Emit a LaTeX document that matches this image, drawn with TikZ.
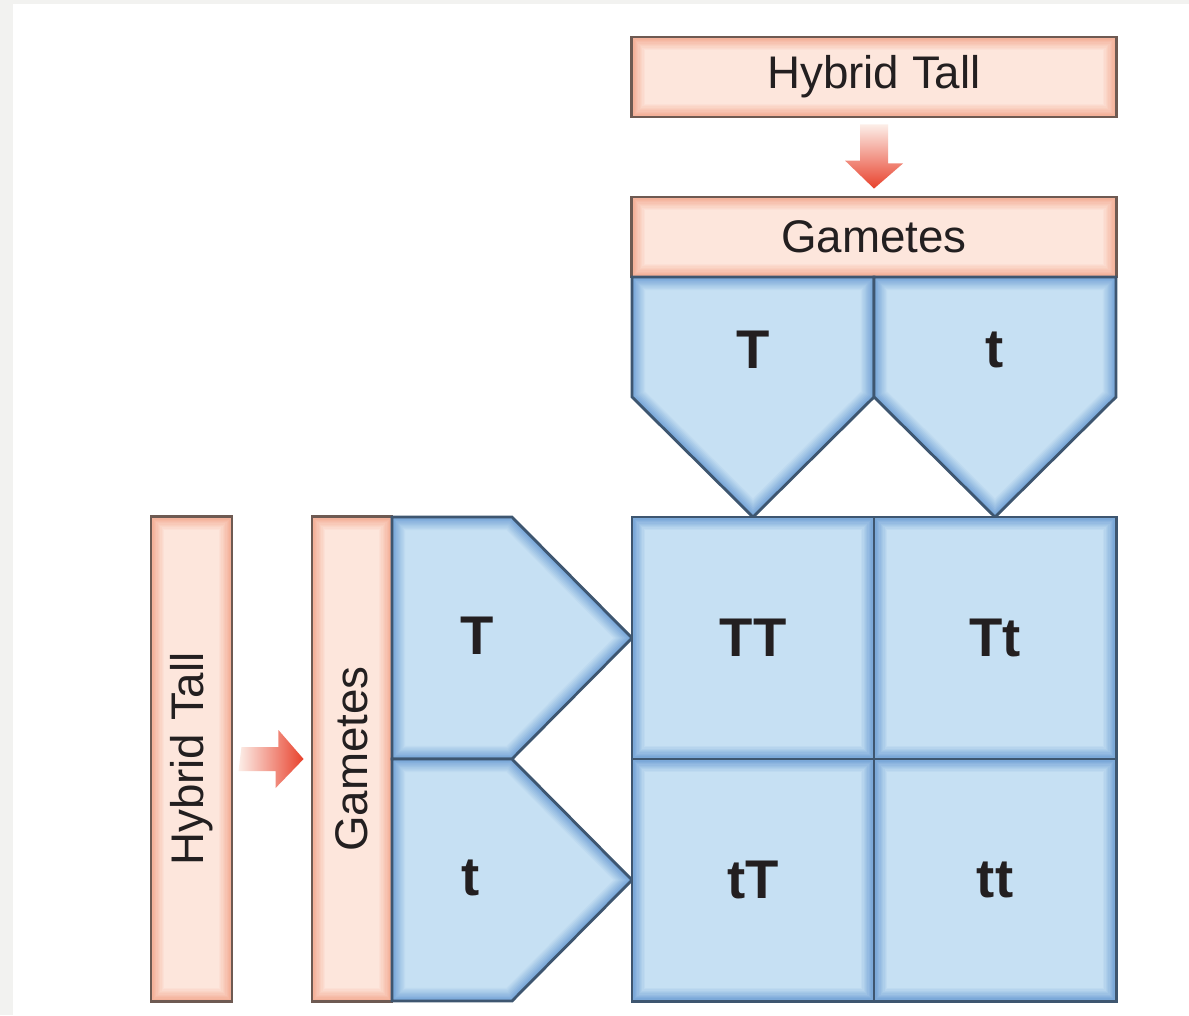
\documentclass[tikz,border=0pt]{standalone}
\usepackage{fontspec}
\setmainfont{Liberation Sans}
\usepackage{tikz}
\usetikzlibrary{calc}

\definecolor{bggray}{HTML}{F2F2F0}
\definecolor{saltlight}{HTML}{FDE6DC}
\definecolor{saltedge}{HTML}{F3AC94}
\definecolor{saltline}{HTML}{6E5A52}
\definecolor{bluelight}{HTML}{C6E0F3}
\definecolor{blueedge}{HTML}{74A3D6}
\definecolor{blueline}{HTML}{3E5670}
\definecolor{inkcol}{HTML}{231F20}
\definecolor{arrowpale}{HTML}{FCEEE8}
\definecolor{arrowred}{HTML}{E8412C}

% soft inner edge for the pointed gamete shapes
\newcommand{\bevelpoly}[1]{%
  \begin{scope}
    \clip #1;
    \fill[bluelight] #1;
    \foreach \k [evaluate=\k as \w using (11-\k)*0.75,
                 evaluate=\k as \m using int(\k*10)] in {1,...,10}
      \draw[line width=\w pt, blueedge!\m!bluelight] #1;
  \end{scope}
  \draw[blueline, line width=0.8pt, line join=miter] #1;}

\begin{document}
\begin{tikzpicture}[x=0.01cm, y=-0.01cm,
  bevel/.style 2 args={fill=#2, path picture={
    \foreach \k [evaluate=\k as \w using (11-\k)*0.75,
                 evaluate=\k as \m using int(\k*10)] in {1,...,10}
      \draw[line width=\w pt, #1!\m!#2] (path picture bounding box.south west)
        rectangle (path picture bounding box.north east);}},
  saltbox/.style={bevel={saltedge}{saltlight}, draw=saltline, line width=0.8pt,
    inner sep=0pt, text=inkcol, font=\fontsize{13}{15}\selectfont},
  cellbox/.style={bevel={blueedge}{bluelight}, draw=blueline, line width=0.8pt,
    inner sep=0pt, minimum size=2.42cm, text=inkcol,
    font=\fontsize{15.5}{18}\selectfont\bfseries},
  allele/.style={inner sep=0pt, text=inkcol, font=\fontsize{15.5}{18}\selectfont\bfseries}]
\useasboundingbox (0,0) rectangle (1189,1015);
\fill[bggray] (0,0) rectangle (1189,1015);
\fill[white] (13,4) rectangle (1189,1015);

% parents and their gametes
\node[saltbox, minimum width=4.84cm, minimum height=0.80cm] (hybTop) at (874,77) {Hybrid Tall};
\node[saltbox, minimum width=4.84cm, minimum height=0.80cm] (gamTop) at (874,237) {Gametes};
\node[saltbox, minimum width=0.81cm, minimum height=4.84cm] (hybLeft) at (191.5,759) {\rotatebox{90}{Hybrid Tall}};
\node[saltbox, minimum width=0.80cm, minimum height=4.84cm] (gamLeft) at (352,759) {\rotatebox{90}{Gametes}};

% fat arrows
\shade[top color=arrowpale, bottom color=arrowred]
  ($(hybTop.south)+(-14,6)$) -- ++(28,0) -- ++(0,39) -- ++(15,0)
  -- ($(gamTop.north)+(0,-7)$) -- ++(-29,-28) -- ++(15,0) -- cycle;
\shade[left color=arrowpale, right color=arrowred]
  ($(hybLeft.east)+(8,-12)$) -- ++(37,0) -- ++(0,-17)
  -- ($(gamLeft.west)+(-7,0)$) -- ++(-28,29) -- ++(0,-17) -- ++(-37,0) -- cycle;

% gametes across the top
\bevelpoly{(632,277) -- (874,277) -- (874,397) -- (753,517) -- (632,397) -- cycle}
\bevelpoly{(874,277) -- (1116,277) -- (1116,397) -- (995,517) -- (874,397) -- cycle}
\node[allele] (topT) at (753,350) {T};
\node[allele] (topt) at (995,350) {t};

% gametes down the side
\bevelpoly{(392,517) -- (512,517) -- (632,638) -- (512,759) -- (392,759) -- cycle}
\bevelpoly{(392,759) -- (512,759) -- (632,880) -- (512,1001) -- (392,1001) -- cycle}
\node[allele] (sideT) at (477,636) {T};
\node[allele] (sidet) at (471,878) {t};

% offspring
\node[cellbox] (cellTT) at (753,638) {TT};
\node[cellbox] (cellTt) at (995,638) {Tt};
\node[cellbox] (celltT) at (753,880) {tT};
\node[cellbox] (celltt) at (995,880) {tt};
\end{tikzpicture}
\end{document}
